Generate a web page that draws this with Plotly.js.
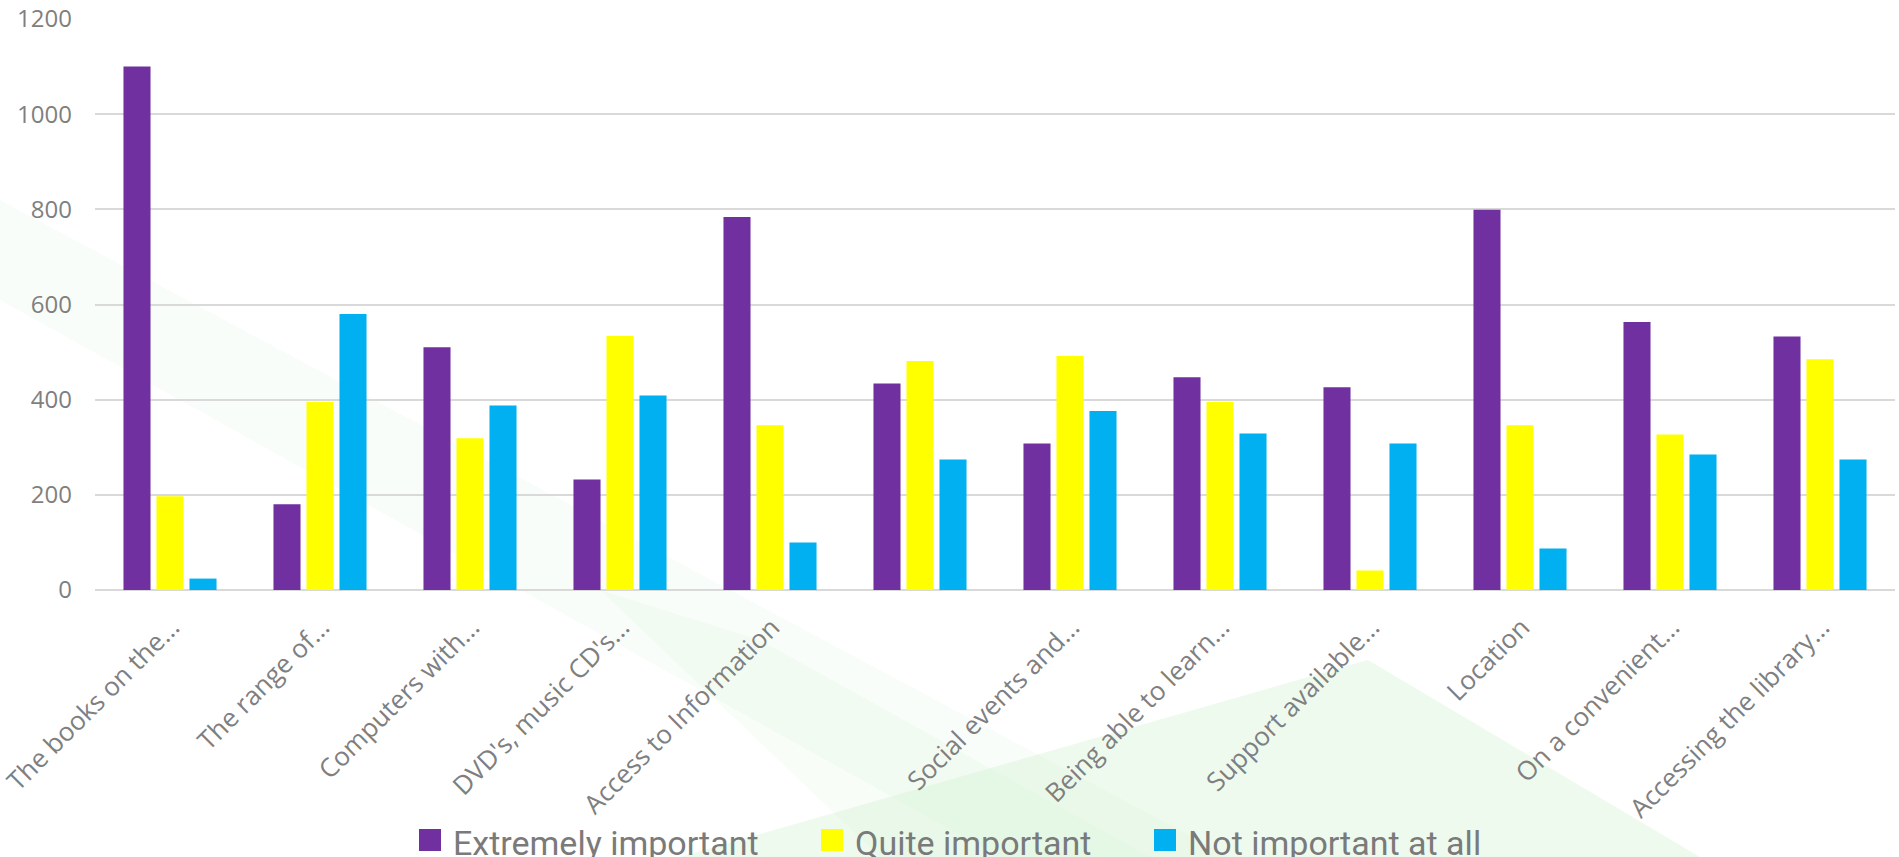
<!DOCTYPE html>
<html>
<head>
<meta charset="utf-8">
<script src="https://cdn.plot.ly/plotly-3.0.1.min.js"></script>
<style>
  html, body { margin: 0; padding: 0; background: #ffffff; }
  #chart { width: 1899px; height: 857px; }
</style>
</head>
<body>
<div id="chart"></div>
<script>
// Survey answers: how important is each library service
const categories = [
  "The books on the...",
  "The range of...",
  "Computers with...",
  "DVD's, music CD's...",
  "Access to Information",
  "",
  "Social events and...",
  "Being able to learn...",
  "Support available...",
  "Location",
  "On a convenient...",
  "Accessing the library..."
];

const seriesNames = ["Extremely important", "Quite important", "Not important at all"];
const seriesColors = ["#7030a0", "#ffff00", "#00b0f0"];

const extremelyImportant = [1100, 180, 510, 232, 784, 434, 308, 447, 426, 799, 563, 533];
const quiteImportant     = [197, 395, 319, 534, 346, 481, 492, 395, 41, 346, 327, 485];
const notImportantAtAll  = [24, 580, 388, 409, 100, 274, 376, 329, 308, 87, 285, 274];

const yTicks = [0, 200, 400, 600, 800, 1000, 1200];

const positions = categories.map((_, i) => i);
const seriesValues = [extremelyImportant, quiteImportant, notImportantAtAll];

const traces = seriesValues.map((vals, k) => ({
  type: "bar",
  name: seriesNames[k],
  x: positions,
  y: vals,
  marker: { color: seriesColors[k] },
  hoverinfo: "x+y+name",
  showlegend: false
}));

// Page geometry (pixels) used to place the legend and the background wash
const W = 1899, H = 857;
const M = { l: 95, r: 4, t: 19, b: 267 };
const plotW = W - M.l - M.r;
const plotH = H - M.t - M.b;
const px = x => (x - M.l) / plotW;
const py = y => (H - M.b - y) / plotH;

// Legend drawn as swatches + labels below the axis labels
const legendLeft = [419, 821, 1154];
const swatch = 22;
const legendTop = 829;
const legendShapes = seriesNames.map((n, k) => ({
  type: "rect", xref: "paper", yref: "paper", layer: "above",
  x0: px(legendLeft[k]), x1: px(legendLeft[k] + swatch),
  y0: py(legendTop), y1: py(legendTop + swatch),
  fillcolor: seriesColors[k], line: { width: 0 }
}));
const legendLabels = seriesNames.map((n, k) => ({
  xref: "paper", yref: "paper",
  x: px(legendLeft[k] + swatch + 10), y: py(legendTop + swatch / 2 + 3),
  xanchor: "left", yanchor: "middle",
  text: n, showarrow: false,
  font: { family: "Roboto, 'Liberation Sans', sans-serif", size: 34, color: "#7a7a7a" }
}));

// Soft green wash behind the chart
const poly = pts => "M" + pts.map(p => px(p[0]) + "," + py(p[1])).join(" L") + " Z";
const wash = [
  { pts: [[0, 200], [0, 300], [1000, 857], [1230, 857]], fill: "rgba(205,238,205,0.12)" },
  { pts: [[600, 590], [760, 640], [1150, 857], [880, 857]], fill: "rgba(205,240,205,0.14)" },
  { pts: [[680, 857], [1368, 660], [1700, 857]], fill: "rgba(200,240,200,0.30)" }
].map(s => ({
  type: "path", xref: "paper", yref: "paper", layer: "below",
  path: poly(s.pts), fillcolor: s.fill, line: { width: 0 }
}));

const layout = {
  width: W, height: H,
  margin: M,
  paper_bgcolor: "#ffffff",
  plot_bgcolor: "rgba(0,0,0,0)",
  barmode: "group",
  bargap: 0.34,
  bargroupgap: 0.18,
  showlegend: false,
  font: { family: "'Open Sans', sans-serif", color: "#7f7f7f" },
  xaxis: {
    range: [-0.5, categories.length - 0.5],
    tickmode: "array",
    tickvals: positions,
    ticktext: categories,
    tickangle: -45,
    showgrid: false,
    zeroline: false,
    showline: false,
    ticks: "",
    ticklabelstandoff: 16,
    ticklabelshift: 2,
    ticklabeloverflow: "allow",
    tickfont: { family: "'Open Sans', sans-serif", size: 26, color: "#7f7f7f" },
    fixedrange: true
  },
  yaxis: {
    range: [0, 1200],
    tickmode: "array",
    tickvals: yTicks,
    ticktext: yTicks.map(String),
    showgrid: true,
    gridcolor: "#d9d9d9",
    gridwidth: 2,
    zeroline: true,
    zerolinecolor: "#d9d9d9",
    zerolinewidth: 2,
    showline: false,
    ticks: "",
    ticklabelstandoff: 22,
    tickfont: { family: "'Open Sans', sans-serif", size: 24, color: "#7f7f7f" },
    fixedrange: true
  },
  shapes: wash.concat(legendShapes),
  annotations: legendLabels
};

Plotly.newPlot("chart", traces, layout, { displayModeBar: false, staticPlot: true });
</script>
</body>
</html>
